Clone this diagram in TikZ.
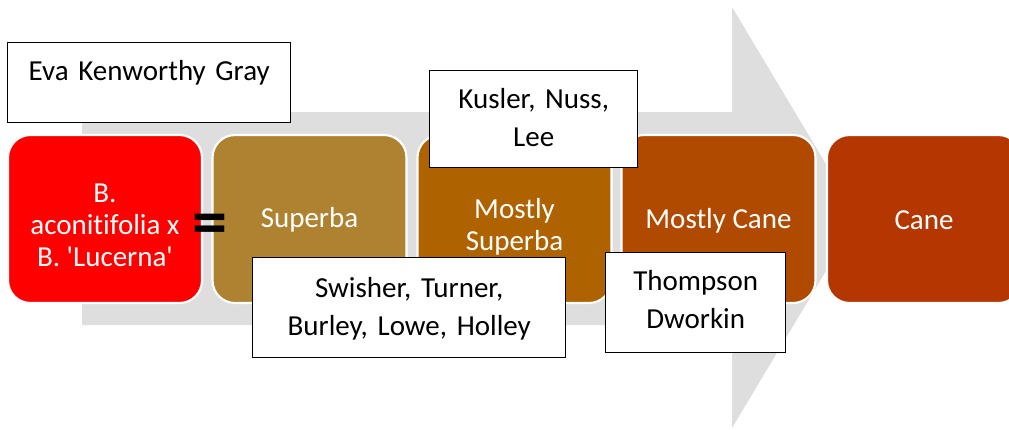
\documentclass[tikz,border=0pt]{standalone}
\usepackage{fontspec}
\setmainfont{Carlito}[Ligatures={NoCommon}]
\frenchspacing
\definecolor{arrowgray}{RGB}{222,222,222}
\definecolor{cA}{RGB}{255,0,0}
\definecolor{cB}{RGB}{175,130,50}
\definecolor{cC}{RGB}{174,98,0}
\definecolor{cD}{RGB}{176,74,0}
\definecolor{cE}{RGB}{180,54,0}
\begin{document}
\begin{tikzpicture}[x=0.02cm,y=-0.02cm,
  stage/.style={draw=white, line width=1.2pt, rounded corners=0.45cm,
    minimum width=3.88cm, minimum height=3.36cm, inner sep=0pt},
  stagetext/.style={text=white, font=\fontsize{16.5}{18.1}\selectfont,
    align=center, inner sep=0pt},
  note/.style={draw=black, line width=0.85pt, fill=white, text=black,
    font=\fontsize{16.5}{21.5}\selectfont, align=center, inner sep=0pt,
    anchor=north west}]
\useasboundingbox (0,0) rectangle (1009,430);
% background arrow
\fill[arrowgray] (82,112) -- (732,112) -- (732,7) -- (858,217.5)
  -- (732,428) -- (732,325) -- (82,325) -- cycle;
% stages
\node[stage, fill=cA] (s1) at (105,219) {};
\node[stage, fill=cB] (s2) at (309.5,219) {};
\node[stage, fill=cC] (s3) at (514.5,219) {};
\node[stage, fill=cD] (s4) at (718.5,219) {};
\node[stage, fill=cE] (s5) at (924,219) {};
\node[stagetext] (t1) at ([yshift=-0.13cm]s1.center) {B.\\aconitifolia x\\B. \textquotesingle Lucerna\textquotesingle};
\node[stagetext] (t2) at ([yshift=-0.02cm]s2.center) {Superba};
\node[stagetext] (t3) at ([yshift=-0.16cm]s3.center) {Mostly\\Superba};
\node[stagetext] (t4) at ([yshift=-0.04cm]s4.center) {Mostly Cane};
\node[stagetext] (t5) at ([yshift=-0.02cm]s5.center) {Cane};
% equal sign
\node[inner sep=0pt, font=\bfseries\fontsize{40}{40}\selectfont] (eq) at (209.5,230) {=};
% name boxes
\node[note, text width=5.66cm, text height=0.76cm, text depth=0.84cm] (eva) at (7,42) {Eva Kenworthy Gray};
\node[note, text width=4.16cm, text height=0.76cm, text depth=1.18cm] (kus) at (429,70) {Kusler, Nuss,\\Lee};
\node[note, text width=6.26cm, text height=0.80cm, text depth=1.20cm] (swi) at (252,257) {Swisher, Turner,\\Burley, Lowe, Holley};
\node[note, text width=3.60cm, text height=0.76cm, text depth=1.24cm] (tho) at (605,252) {Thompson\\Dworkin};
\end{tikzpicture}
\end{document}
